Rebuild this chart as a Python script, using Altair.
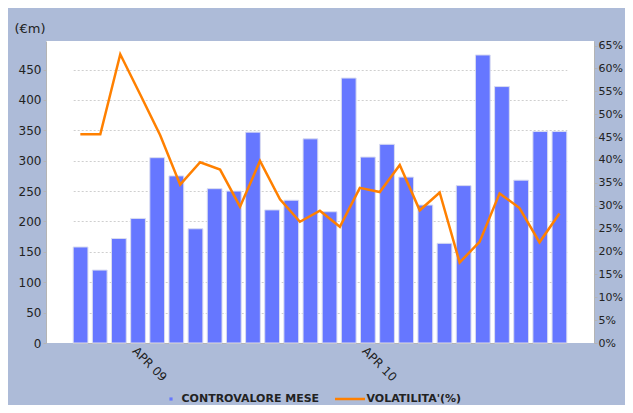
import altair as alt
import pandas as pd

# ---- data ----
months = ["GEN 09", "FEB 09", "MAR 09", "APR 09", "MAG 09", "GIU 09", "LUG 09", "AGO 09",
          "SET 09", "OTT 09", "NOV 09", "DIC 09", "GEN 10", "FEB 10", "MAR 10", "APR 10",
          "MAG 10", "GIU 10", "LUG 10", "AGO 10", "SET 10", "OTT 10", "NOV 10", "DIC 10",
          "GEN 11", "FEB 11"]
controvalore = [158, 120, 172, 205, 305, 275, 188, 254, 250, 347, 219, 235, 336,
                216, 436, 306, 327, 273, 227, 164, 259, 474, 422, 268, 348, 348]
volatilita = [45.6, 45.6, 63.1, 54.3, 45.4, 34.6, 39.5, 37.9, 29.8, 39.8, 31.4, 26.5,
              28.9, 25.4, 33.9, 33.0, 38.9, 29.0, 32.9, 17.6, 22.1, 32.7, 29.5, 22.0, 28.3]
x_labels = ["APR 09", "APR 10"]
left_ticks = [0, 50, 100, 150, 200, 250, 300, 350, 400, 450]
right_ticks = [0, 5, 10, 15, 20, 25, 30, 35, 40, 45, 50, 55, 60, 65]
series = ["CONTROVALORE MESE", "VOLATILITA'(%)"]
colors = ["#6677ff", "#ff8000"]

bars_df = pd.DataFrame({"mese": months, "controvalore": controvalore, "serie_barre": series[0]})
line_df = pd.DataFrame({"punto": list(range(len(volatilita))),
                        "vol": [v / 100 for v in volatilita], "serie_linea": series[1]})

FONT = "DejaVu Sans"
TXT = "#222222"
GRAY = "#b4b4b4"

legend_common = dict(title=None, orient="none", direction="horizontal",
                     labelFont=FONT, labelFontSize=11, labelFontWeight="bold", labelColor=TXT,
                     padding=0)
bar_legend = alt.Legend(legendX=119.5, legendY=352.5, symbolType="square", symbolSize=10,
                        symbolStrokeWidth=0, labelOffset=5, **legend_common)
line_legend = alt.Legend(legendX=287.5, legendY=341.5, symbolType="stroke", symbolSize=900,
                         symbolStrokeWidth=2.5, labelOffset=0, **legend_common)

bars = alt.Chart(bars_df).mark_bar(stroke="#d9dcf0", strokeWidth=1).encode(
    x=alt.X("mese:N", sort=months,
            scale=alt.Scale(paddingInner=0.23, paddingOuter=0, range=[27.2, 520.8]),
            axis=alt.Axis(values=x_labels, labelAngle=45, title=None, ticks=False, grid=False,
                          domainColor=GRAY, labelFont=FONT, labelFontSize=12, labelColor=TXT,
                          labelAlign="left", labelBaseline="top", labelPadding=2)),
    y=alt.Y("controvalore:Q", scale=alt.Scale(domain=[0, 497], nice=False),
            axis=alt.Axis(title="(€m)", titleAngle=0, titleX=-32, titleY=-13,
                          titleAlign="left", titleBaseline="middle", titleFont=FONT,
                          titleFontSize=13, titleFontWeight="normal", titleColor=TXT,
                          values=left_ticks, grid=True, gridDash=[2, 2], gridColor="#cfcfcf",
                          tickSize=3, tickColor=GRAY, domainColor=GRAY, labelPadding=2,
                          labelFont=FONT, labelFontSize=12, labelColor=TXT)),
    color=alt.Color("serie_barre:N", scale=alt.Scale(domain=[series[0]], range=[colors[0]]),
                    legend=bar_legend),
)

line = alt.Chart(line_df).mark_line(strokeWidth=2.5).encode(
    x=alt.X("punto:Q", scale=alt.Scale(domain=[-1.72, 25.73], nice=False, zero=False), axis=None),
    y=alt.Y("vol:Q", scale=alt.Scale(domain=[0, 0.66], nice=False),
            axis=alt.Axis(orient="right", format=".0%", values=[t / 100 for t in right_ticks],
                          grid=False, title=None, tickSize=3, tickColor=GRAY, domainColor=GRAY,
                          labelPadding=1, labelFont=FONT, labelFontSize=11, labelColor=TXT)),
    stroke=alt.Stroke("serie_linea:N", scale=alt.Scale(domain=[series[1]], range=[colors[1]]),
                      legend=line_legend),
)

chart = alt.layer(bars, line).resolve_scale(x="independent", y="independent").properties(
    width=548, height=302, background="#adbbd8",
    padding={"left": 38, "top": 33, "right": 31, "bottom": 62},
    autosize=alt.AutoSizeParams(type="none"),
).configure_view(fill="white", stroke=None)

chart.save("out.html", embed_options={"renderer": "svg", "actions": False})
